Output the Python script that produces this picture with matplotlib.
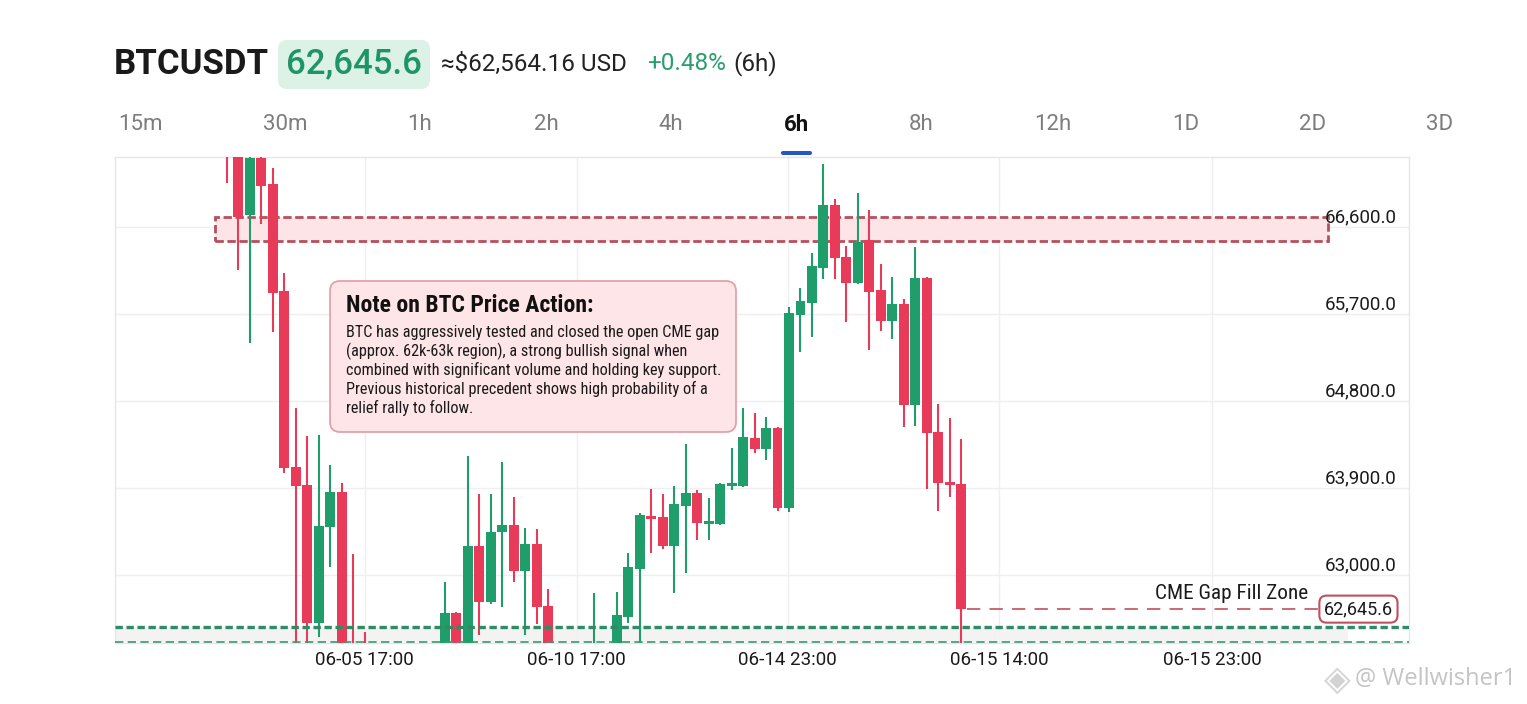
import matplotlib
matplotlib.use('Agg')
import matplotlib.pyplot as plt
import numpy as np
import matplotlib.transforms as mtransforms
from matplotlib.patches import FancyBboxPatch, Rectangle

W, H, DPI = 1527, 704, 100

# ---------------- data ----------------
symbol = "BTCUSDT"
last_price = 62645.6
last_price_label = "62,645.6"
usd_price = "≈$62,564.16 USD"
change_pct = "+0.48%"
change_period = "(6h)"
timeframes = ["15m", "30m", "1h", "2h", "4h", "6h", "8h", "12h", "1D", "2D", "3D"]
active_tf = "6h"

opens = [67480, 67420, 66724, 67314, 67045, 65938, 64117, 63931, 62503, 63497,
         63859, 62240, 62250, 62170, 62120, 62200, 62090, 62180, 62150, 62210,
         62607, 62230, 63300, 62721, 63445, 63517, 63041, 63321, 62679, 62220,
         62110, 62190, 62130, 62240, 62290, 62565, 63062, 63610, 63600, 63300,
         63714, 63848, 63528, 63528, 63921, 63921, 64417, 64303, 64521, 63693,
         65690, 65814, 66176, 66828, 66290, 66021, 66466, 65948, 65628, 65803,
         64759, 66072, 64479, 63962, 63941]
highs = [67560, 67500, 67340, 67380, 67210, 66124, 64728, 64438, 64448, 64138,
         63952, 63217, 62410, 62260, 62240, 62270, 62230, 62280, 62260, 62928,
         62620, 64231, 63838, 63838, 64169, 63807, 63486, 63476, 62855, 62270,
         62250, 62260, 62814, 62280, 62824, 63228, 63640, 63890, 63838, 63921,
         64355, 63879, 63797, 63955, 64314, 64728, 64676, 64634, 64530, 65772,
         65969, 66331, 67252, 66890, 66403, 66952, 66776, 66217, 66083, 65855,
         66393, 66080, 64769, 64624, 64407]
lows = [67055, 66155, 65400, 66631, 65514, 64055, 62150, 62150, 62358, 63083,
        62100, 62080, 62100, 62050, 62020, 62060, 62000, 62080, 62060, 62150,
        62150, 62180, 62379, 62700, 62669, 62928, 62379, 62493, 62160, 62040,
        62010, 62070, 62080, 62100, 62240, 62503, 62270, 63228, 63269, 62814,
        63021, 63362, 63362, 63517, 63879, 63910, 64262, 64190, 63662, 63652,
        65307, 65462, 66062, 66062, 65617, 66010, 65328, 65524, 65441, 64531,
        64541, 63890, 63662, 63807, 62300]
closes = [67380, 66703, 67314, 67024, 65917, 64107, 63921, 62503, 63507, 63859,
          62180, 62160, 62170, 62120, 62200, 62090, 62180, 62150, 62210, 62607,
          62230, 63300, 62721, 63445, 63517, 63041, 63321, 62669, 62220, 62110,
          62190, 62130, 62240, 62200, 62586, 63083, 63621, 63579, 63300, 63734,
          63848, 63538, 63559, 63941, 63941, 64428, 64303, 64521, 63693, 65710,
          65834, 66197, 66828, 66279, 66021, 66445, 65928, 65628, 65803, 64759,
          66072, 64469, 63952, 63931, 62645.6]

price_levels = [63000, 63900, 64800, 65700, 66600]
price_labels = ["63,000.0", "63,900.0", "64,800.0", "65,700.0", "66,600.0"]
x_tick_pos = [12.0, 30.5, 48.9, 67.3, 85.9]
x_tick_labels = ["06-05 17:00", "06-10 17:00", "06-14 23:00", "06-15 14:00", "06-15 23:00"]
resistance_low, resistance_high = 66455, 66705
resistance_x = (-1.05, 96.0)
gap_line_top = 62462
gap_line_bottom = 62307
gap_fill_end = 97.7
price_line_end = 95.1
y_min, y_max = 62295, 67325
x_min, x_max = -9.76, 103.05

note_title = "Note on BTC Price Action:"
note_lines = [
    "BTC has aggressively tested and closed the open CME gap",
    "(approx. 62k-63k region), a strong bullish signal when",
    "combined with significant volume and holding key support.",
    "Previous historical precedent shows high probability of a",
    "relief rally to follow.",
]
gap_label = "CME Gap Fill Zone"
watermark = "@ Wellwisher1"

# ---------------- style ----------------
UP = '#1f9e6c'
DOWN = '#e83b5a'
BASE = ['Roboto', 'DejaVu Sans']
COND = ['Roboto Condensed', 'Liberation Sans Narrow', 'Roboto', 'DejaVu Sans']
plt.rcParams['font.family'] = BASE

fig = plt.figure(figsize=(W / DPI, H / DPI), dpi=DPI)
fig.patch.set_facecolor('white')
PX = mtransforms.IdentityTransform()


def fx(x):
    return x / W


def fy(y):
    return 1 - y / H


def rbox(x0, y0, x1, y1, r, **kw):
    p = FancyBboxPatch((x0, H - y1), x1 - x0, y1 - y0,
                       boxstyle=f"round,pad=0,rounding_size={r}",
                       transform=PX, **kw)
    fig.add_artist(p)
    return p


# ---------------- header ----------------
fig.text(fx(114), fy(64), symbol, fontsize=25, weight='bold', color='#1a1a1a',
         va='center', ha='left')
rbox(278, 40, 430, 89, 9, facecolor='#dcf2e6', edgecolor='none')
fig.text(fx(354), fy(64), last_price_label, fontsize=25, weight='medium',
         color='#1f9466', va='center', ha='center')
fig.text(fx(441), fy(64), usd_price, fontsize=17.5, color='#222222',
         va='center', ha='left')
fig.text(fx(647), fy(64), change_pct, fontsize=17.5, color='#2a9d6a',
         va='center', ha='left')
fig.text(fx(733), fy(64), change_period, fontsize=17.5, color='#222222',
         va='center', ha='left')

tab_x = [140, 285, 420, 546, 671, 796, 921, 1053, 1186, 1313, 1440]
for tx, tf in zip(tab_x, timeframes):
    active = tf == active_tf
    fig.text(fx(tx), fy(125), tf, fontsize=16,
             weight='bold' if active else 'normal',
             color='#111111' if active else '#7d7d7d', va='center', ha='center')
rbox(781, 151, 812, 155, 2, facecolor='#2457c9', edgecolor='none')

# ---------------- chart ----------------
ax = fig.add_axes([fx(115), (H - 643) / H, (1409 - 115) / W, (643 - 157) / H])
ax.set_xlim(x_min, x_max)
ax.set_ylim(y_min, y_max)
for s in ax.spines.values():
    s.set_color('#e6e6e6')
    s.set_linewidth(1)
ax.set_yticks(price_levels)
ax.set_yticklabels([])
ax.tick_params(axis='y', length=0)
ax.set_xticks(x_tick_pos)
ax.set_xticklabels(x_tick_labels, fontsize=13.5, color='#1a1a1a')
ax.tick_params(axis='x', length=0, pad=6)
ax.grid(True, color='#efefef', linewidth=1)
ax.set_axisbelow(True)

# resistance zone
ax.add_patch(Rectangle((resistance_x[0], resistance_low),
                       resistance_x[1] - resistance_x[0],
                       resistance_high - resistance_low,
                       facecolor='#fde4e7', edgecolor='#b4505d',
                       linewidth=2, linestyle=(0, (3, 1.3)), zorder=1.5))

# cme gap lines / fill
ax.fill_between([x_min, gap_fill_end], gap_line_bottom, gap_line_top,
                color='#f1f1f1', alpha=0.8, zorder=1, linewidth=0)
ax.axhline(gap_line_top, color='#2e8b63', linewidth=2.4,
           linestyle=(0, (2.2, 1.1)), zorder=4)
ax.axhline(gap_line_bottom, color='#3a9a70', linewidth=1.2,
           linestyle=(0, (5, 2.6)), zorder=4)

# candles
x = np.arange(len(opens))
o = np.array(opens, float)
h = np.array(highs, float)
l = np.array(lows, float)
c = np.array(closes, float)
cols = np.where(c >= o, UP, DOWN)
ax.vlines(x, l, h, colors=cols, linewidth=1.5, zorder=3)
body_bot = np.minimum(o, c)
body_h = np.maximum(np.abs(c - o), 28)
ax.bar(x, body_h, bottom=body_bot, width=0.86, color=cols, linewidth=0, zorder=3)

# last price line & label
ax.plot([x[-1] + 0.5, price_line_end], [last_price, last_price], color='#c0505e',
        linewidth=1.2, linestyle=(0, (8, 5.5)), zorder=4)
blend = mtransforms.blended_transform_factory(ax.transAxes, ax.transData)
ax.text((1393 - 115) / 1294, last_price, last_price_label, transform=blend,
        fontsize=13, color='#1a1a1a', ha='right', va='center', zorder=6,
        bbox=dict(boxstyle='round,pad=0.25,rounding_size=0.4', fc='white',
                  ec='#c0505e', lw=1.5))
gap_tr = mtransforms.offset_copy(blend, fig=fig, x=0, y=16, units='dots')
ax.text((1308 - 115) / 1294, last_price, gap_label, transform=gap_tr,
        fontsize=15.3, family=COND, color='#1a1a1a', ha='right', va='center', zorder=6)

# price labels
lab_tr = mtransforms.offset_copy(blend, fig=fig, x=0, y=10, units='dots')
for lv, lb in zip(price_levels, price_labels):
    ax.text((1397 - 115) / 1294, lv, lb, transform=lab_tr, fontsize=13.5,
            color='#1a1a1a', ha='right', va='center', zorder=6)

# ---------------- note box ----------------
rbox(330, 281, 736, 432, 10, facecolor='#fde5e8', edgecolor='#e3a2aa',
     linewidth=1.3, zorder=10)
fig.text(fx(346), fy(306), note_title, fontsize=17, weight='bold', family=COND,
         color='#111111', va='center', ha='left', zorder=11)
for i, line in enumerate(note_lines):
    fig.text(fx(346), fy(332 + i * 19.1), line, fontsize=11.7, family=COND,
             color='#1a1a1a', va='center', ha='left', zorder=11)

# ---------------- watermark ----------------
fig.text(fx(1337), fy(680), "◈", fontsize=25, color='#d3d3d3', va='center',
         ha='center', family=['DejaVu Sans'])
fig.text(fx(1355), fy(679), watermark, fontsize=17, color='#c4c4c4',
         va='center', ha='left', family=['Open Sans', 'DejaVu Sans'])

fig.savefig('out.png', dpi=DPI, facecolor='white')
